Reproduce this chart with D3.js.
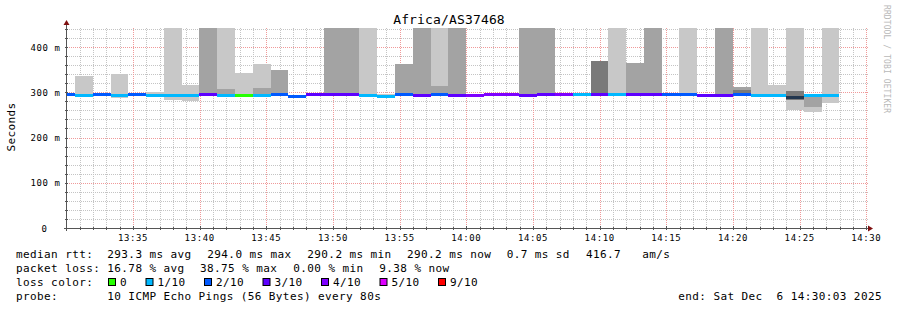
<!DOCTYPE html>
<html>
<head>
<meta charset="utf-8">
<script src="https://cdn.jsdelivr.net/npm/d3@7"></script>
<style>
  body { margin: 0; background: #fff; }
  svg text { font-family: "DejaVu Sans Mono", monospace; white-space: pre; }
</style>
</head>
<body>
<div id="chart-area"></div>
<script>
// --- data (ms) ---
// one entry per 80 s step, first one starts 13:29:19 (partly left of the plot)
const stepStart = new Date(2025, 11, 6, 13, 29, 19)
const STEP = 80

const median = [294, 293, 294, 293, 294, 293, 293, 293, 294, 293, 293, 293, 294, 291, 294, 294, 294, 293, 291, 294, 292, 294,
  292, 292, 294, 294, 292, 294, 294, 294, 294, 294, 294, 294, 294, 294, 292, 292, 294, 293, 292, 288, 293, 293]
// index into lossColors, null = dark median
const lossBucket = [2, 1, 2, 1, 2, 1, 1, 1, 3, 1, 0, 1, 2, 2, 3, 3, 3, 1, 1, 2, 3, 2,
  3, 4, 4, 4, 3, 3, 4, 1, 3, 1, 3, 3, 2, 2, 3, 3, 2, 1, 1, null, 1, 1]

// smoke bands (light / medium / dark grey), 460 = off the top
const lightLo = [292, 291, null, 288, null, 292, 283, 281, null, 292, 294, 292, null, null, 292, null, null, 292, 290, null, null, 292,
  null, null, null, 292, null, null, null, 292, null, 292, null, null, null, 292, null, null, null, 292, 292, 261, 257, 277]
const lightHi = [299, 335, null, 340, null, 301, 460, 317, null, 460, 342, 362, null, null, 297, null, null, 460, 296, null, null, 460,
  null, null, null, 298, null, null, null, 297, null, 460, null, null, null, 460, null, null, null, 460, 316, 460, 293, 460]
const midLo = [null, null, null, null, null, null, null, null, 292, 292, null, 292, 292, null, null, 292, 292, null, null, 292, 292, 292,
  292, null, null, null, 292, 292, null, null, null, null, 292, 292, null, null, null, 292, 292, null, null, null, 268, null]
const midHi = [null, null, null, null, null, null, null, null, 460, 307, null, 309, 349, null, null, 460, 460, null, null, 362, 460, 314,
  460, null, null, null, 460, 460, null, null, null, null, 365, 460, null, null, null, 460, 312, null, null, null, 290, null]
const darkLo = [null, null, null, null, null, null, null, null, null, null, null, null, null, null, null, null, null, null, null, null, null, null,
  null, null, null, null, null, null, null, null, 292, null, null, null, null, null, null, null, 292, null, null, 282, null, null]
const darkHi = [null, null, null, null, null, null, null, null, null, null, null, null, null, null, null, null, null, null, null, null, null, null,
  null, null, null, null, null, null, null, null, 370, null, null, null, null, null, null, null, 305, null, null, 303, null, null]

const lossLabels = ["0", "1/10", "2/10", "3/10", "4/10", "5/10", "9/10"]
const lossColors = ["#26ff00", "#00b8ff", "#0059ff", "#5e00ff", "#7e00ff", "#dd00ff", "#ff0000"]

const yTicks = [0, 100, 200, 300, 400]

const legendRtt = [["median rtt:", 16], ["293.3 ms avg", 107.3], ["294.0 ms max", 207.3], ["290.2 ms min", 307.3],
  ["290.2 ms now", 407], ["0.7 ms sd", 506.7], ["416.7   am/s", 586]]
const legendLoss = [["packet loss:", 16], ["16.78 % avg", 107.3], ["38.75 % max", 200], ["0.00 % min", 293.3], ["9.38 % now", 379.3]]
const probeText = "10 ICMP Echo Pings (56 Bytes) every 80s"
const endText = "end: Sat Dec  6 14:30:03 2025"

// --- layout ---
const LEFT = 67, RIGHT = 867, TOP = 28, BOTTOM = 228

const svg = d3.select("#chart-area").append("svg")
  .attr("width", 897)
  .attr("height", 310)

const tStart = new Date(2025, 11, 6, 13, 30, 3)
const tEnd = new Date(2025, 11, 6, 14, 30, 3)

const xScale = d3.scaleTime().domain([tStart, tEnd]).range([LEFT, RIGHT])
const yScale = d3.scaleLinear().domain([0, 442]).range([BOTTOM, TOP])

// grid
const grid = svg.append("g")
const minorY = d3.range(20, 441, 20).filter(v => v % 100 !== 0)
const majorY = d3.range(100, 441, 100)
const minutes = d3.timeMinute.range(tStart, tEnd)

grid.selectAll(".hminor").data(minorY).enter().append("line")
  .attr("x1", LEFT).attr("x2", RIGHT + 2)
  .attr("y1", d => Math.round(yScale(d)) + 0.5).attr("y2", d => Math.round(yScale(d)) + 0.5)
  .attr("stroke", "#c4c4c4").attr("stroke-dasharray", "1,1")
grid.selectAll(".vminor").data(minutes.filter(d => d.getMinutes() % 5 !== 0)).enter().append("line")
  .attr("x1", d => Math.round(xScale(d)) + 0.5).attr("x2", d => Math.round(xScale(d)) + 0.5)
  .attr("y1", TOP).attr("y2", BOTTOM)
  .attr("stroke", "#c4c4c4").attr("stroke-dasharray", "1,1")
grid.selectAll(".hmajor").data(majorY).enter().append("line")
  .attr("x1", LEFT).attr("x2", RIGHT + 2)
  .attr("y1", d => Math.round(yScale(d)) + 0.5).attr("y2", d => Math.round(yScale(d)) + 0.5)
  .attr("stroke", "#f09a9a").attr("stroke-dasharray", "1,1")
grid.selectAll(".vmajor").data(minutes.filter(d => d.getMinutes() % 5 === 0)).enter().append("line")
  .attr("x1", d => Math.round(xScale(d)) + 0.5).attr("x2", d => Math.round(xScale(d)) + 0.5)
  .attr("y1", TOP).attr("y2", BOTTOM)
  .attr("stroke", "#f09a9a").attr("stroke-dasharray", "1,1")

// plot clip
svg.append("clipPath").attr("id", "plot")
  .append("rect").attr("x", LEFT).attr("y", TOP).attr("width", RIGHT - LEFT).attr("height", BOTTOM - TOP)

const g = svg.append("g").attr("clip-path", "url(#plot)").attr("shape-rendering", "crispEdges")

const t0 = i => d3.timeSecond.offset(stepStart, i * STEP)
const t1 = i => d3.timeSecond.offset(stepStart, (i + 1) * STEP)

function band(lo, hi, color) {
  const idx = d3.range(median.length).filter(i => lo[i] != null)
  g.selectAll(null).data(idx).enter().append("rect")
    .attr("x", i => xScale(t0(i)))
    .attr("width", i => xScale(t1(i)) - xScale(t0(i)))
    .attr("y", i => yScale(hi[i]))
    .attr("height", i => yScale(lo[i]) - yScale(hi[i]))
    .attr("fill", color)
}
band(lightLo, lightHi, "#c8c8c8")
band(midLo, midHi, "#a3a3a3")
band(darkLo, darkHi, "#7a7a7a")

// median, coloured by loss
g.selectAll(".median").data(median).enter().append("rect")
  .attr("x", (d, i) => xScale(t0(i)))
  .attr("width", (d, i) => xScale(t1(i)) - xScale(t0(i)))
  .attr("y", d => yScale(d) - 1.5)
  .attr("height", 3)
  .attr("fill", (d, i) => lossBucket[i] == null ? "#22364e" : lossColors[lossBucket[i]])

// axes
const axisColor = "#555"
svg.append("line").attr("x1", LEFT - 3).attr("x2", RIGHT + 2)
  .attr("y1", BOTTOM + 0.5).attr("y2", BOTTOM + 0.5).attr("stroke", axisColor)
svg.append("line").attr("x1", LEFT - 0.5).attr("x2", LEFT - 0.5)
  .attr("y1", BOTTOM + 3).attr("y2", TOP - 4).attr("stroke", axisColor)
svg.append("path").attr("d", `M${RIGHT + 1},${BOTTOM - 2.5}L${RIGHT + 6},${BOTTOM + 0.5}L${RIGHT + 1},${BOTTOM + 3.5}Z`)
  .attr("fill", "#7f1010")
svg.append("path").attr("d", `M${LEFT - 3.5},${TOP - 3}L${LEFT - 0.5},${TOP - 8}L${LEFT + 2.5},${TOP - 3}Z`)
  .attr("fill", "#7f1010")

// ticks on axes
svg.selectAll(".xt").data(minutes).enter().append("line")
  .attr("x1", d => Math.round(xScale(d)) + 0.5).attr("x2", d => Math.round(xScale(d)) + 0.5)
  .attr("y1", d => d.getMinutes() % 5 === 0 ? BOTTOM - 2 : BOTTOM - 1).attr("y2", BOTTOM + 2)
  .attr("stroke", axisColor)
svg.selectAll(".yt").data(minorY.concat(majorY)).enter().append("line")
  .attr("x1", LEFT - 2).attr("x2", LEFT + 1)
  .attr("y1", d => Math.round(yScale(d)) + 0.5).attr("y2", d => Math.round(yScale(d)) + 0.5)
  .attr("stroke", axisColor)

// tick labels
svg.selectAll(".xl").data(minutes.filter(d => d.getMinutes() % 5 === 0)).enter().append("text")
  .attr("x", d => xScale(d)).attr("y", 241)
  .attr("text-anchor", "middle").attr("font-size", "9px").attr("letter-spacing", "0.6px")
  .text(d3.timeFormat("%H:%M"))
svg.selectAll(".yl").data(yTicks).enter().append("text")
  .attr("x", d => d === 0 ? 47.5 : 60.5).attr("y", d => yScale(d) + 3.5)
  .attr("text-anchor", "end").attr("font-size", "9px").attr("letter-spacing", "0.6px")
  .text(d => d === 0 ? "0" : `${d} m`)

// title, axis label, watermark
svg.append("text").attr("x", 449).attr("y", 24).attr("text-anchor", "middle")
  .attr("font-size", "13px").attr("letter-spacing", "0.15px").text("Africa/AS37468")
svg.append("text").attr("transform", "translate(15,127) rotate(-90)").attr("text-anchor", "middle")
  .attr("font-size", "11px").attr("letter-spacing", "0.4px").text("Seconds")
svg.append("text").attr("transform", "translate(884,5) rotate(90)")
  .attr("font-size", "8px").attr("letter-spacing", "0.1px").attr("fill", "#b8b8b8")
  .text("RRDTOOL / TOBI OETIKER")

// legend
const leg = svg.append("g").attr("font-size", "11px").attr("letter-spacing", "0.4px")
leg.selectAll(".l1").data(legendRtt).enter().append("text")
  .attr("x", d => d[1]).attr("y", 258).text(d => d[0])
leg.selectAll(".l2").data(legendLoss).enter().append("text")
  .attr("x", d => d[1]).attr("y", 272).text(d => d[0])
leg.append("text").attr("x", 16).attr("y", 286).text("loss color:")

let sx = 108
lossLabels.forEach((lab, i) => {
  leg.append("rect").attr("x", sx + 0.5).attr("y", 278.5).attr("width", 7).attr("height", 7)
    .attr("fill", lossColors[i]).attr("stroke", "#000").attr("stroke-width", 1)
  leg.append("text").attr("x", sx + 12).attr("y", 286).text(lab)
  sx += 7 * lab.length + 30.5
})

leg.append("text").attr("x", 16).attr("y", 300).text("probe:")
leg.append("text").attr("x", 107.3).attr("y", 300).text(probeText)
leg.append("text").attr("x", 678.3).attr("y", 300).text(endText)
</script>
</body>
</html>
